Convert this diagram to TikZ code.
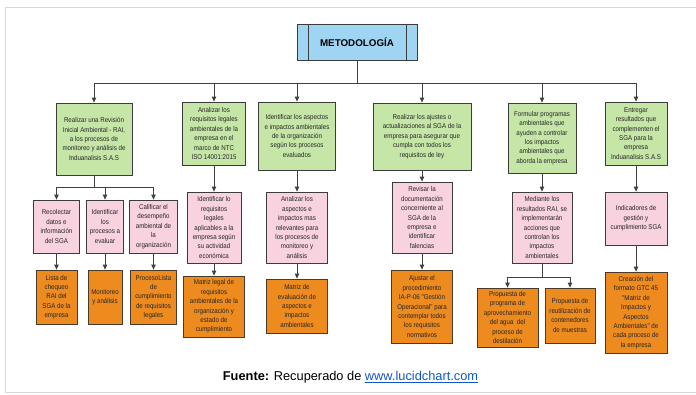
\documentclass[tikz,border=0pt]{standalone}
\usepackage{fontspec}
\setmainfont{Liberation Sans}
\newfontfamily\boxfont[FakeStretch=0.88]{Liberation Sans}
\usetikzlibrary{arrows.meta}
\definecolor{gfill}{HTML}{C6E6A8}
\definecolor{pfill}{HTML}{F8D2DE}
\definecolor{ofill}{HTML}{EE8B1F}
\definecolor{tfill}{HTML}{9FD4F2}
\definecolor{bord}{HTML}{3C3C3C}
\definecolor{obord}{HTML}{4A3A2A}
\definecolor{conn}{HTML}{404040}
\definecolor{frame}{HTML}{D8D8D8}
\definecolor{linkblue}{HTML}{1155CC}
\tikzset{
  box/.style={draw=bord, line width=0.8pt, align=center, inner sep=1pt,
    font=\boxfont\fontsize{7}{9.4}\selectfont, text=black!85},
  gbox/.style={box, fill=gfill},
  pbox/.style={box, fill=pfill},
  obox/.style={box, fill=ofill, draw=obord},
  arr/.style={draw=conn, line width=0.9pt, -{Triangle[length=5pt,width=4.5pt]}},
  ln/.style={draw=conn, line width=0.9pt},
}
\begin{document}
\begin{tikzpicture}[x=1pt,y=-1pt]
\useasboundingbox (0,0) rectangle (696,394);
\draw[frame, line width=1pt] (697,7) -- (5,7) -- (5,392) -- (697,392);

% title
\node[draw=bord, fill=tfill, line width=0.8pt, minimum width=120pt, minimum height=36pt,
  font=\bfseries\fontsize{9.8}{11}\selectfont] (title) at (357,42) {METODOLOGÍA};
\draw[draw=bord, line width=0.8pt] ([xshift=12pt]title.north west) -- ([xshift=12pt]title.south west);
\draw[draw=bord, line width=0.8pt] ([xshift=-11pt]title.north east) -- ([xshift=-11pt]title.south east);

% level 1
\node[gbox, minimum width=76pt, minimum height=72pt] (g1) at (94,139)
  {Realizar una Revisión\\Inicial Ambiental - RAI,\\a los procesos de\\monitoreo y análisis de\\Induanalisis S.A.S};
\node[gbox, minimum width=63pt, minimum height=63pt] (g2) at (214,133.5)
  {Analizar los\\requisitos legales\\ambientales de la\\empresa en el\\marco de NTC\\ISO 14001:2015};
\node[gbox, minimum width=77pt, minimum height=68pt] (g3) at (297,136)
  {Identificar los aspectos\\e impactos ambientales\\de la organización\\según los procesos\\evaluados};
\node[gbox, minimum width=98pt, minimum height=67pt] (g4) at (422,136.5)
  {Realizar los ajustes o\\actualizaciones al SGA de la\\empresa para asegurar que\\cumpla con todos los\\requisitos de ley};
\node[gbox, minimum width=68pt, minimum height=70pt] (g5) at (542,138)
  {Formular programas\\ambientales que\\ayuden a controlar\\los impactos\\ambientales que\\aborda la empresa};
\node[gbox, minimum width=62pt, minimum height=63pt] (g6) at (636,133.5)
  {Entregar\\resultados que\\complementen el\\SGA para la\\empresa\\Induanalisis S.A.S};

% level 2 (pink)
\node[pbox, minimum width=46pt, minimum height=53pt] (p1a) at (56.5,226.5)
  {Recolectar\\datos e\\información\\del SGA};
\node[pbox, minimum width=37pt, minimum height=53pt] (p1b) at (105,226.5)
  {Identificar\\los\\procesos a\\evaluar};
\node[pbox, minimum width=48pt, minimum height=53pt] (p1c) at (153.5,226.5)
  {Calificar el\\desempeño\\ambiental de\\la\\organización};
\node[pbox, minimum width=54pt, minimum height=71pt] (p2) at (214,227.5)
  {Identificar lo\\requisitos\\legales\\aplicables a la\\empresa según\\su actividad\\económica};
\node[pbox, minimum width=61pt, minimum height=71pt] (p3) at (297,227.5)
  {Analizar los\\aspectos e\\impactos mas\\relevantes para\\los procesos de\\monitoreo y\\análisis};
\node[pbox, minimum width=60pt, minimum height=71pt] (p4) at (422,217.5)
  {Revisar la\\documentación\\concerniente al\\SGA de la\\empresa e\\identificar\\falencias};
\node[pbox, minimum width=60pt, minimum height=71pt] (p5) at (542,227.5)
  {Mediante los\\resultados RAI, se\\implementarán\\acciones que\\controlan los\\impactos\\ambientales};
\node[pbox, minimum width=62pt, minimum height=53pt] (p6) at (636,218.5)
  {Indicadores de\\gestión y\\cumplimiento SGA};

% level 3 (orange)
\node[obox, minimum width=41pt, minimum height=54pt] (o1a) at (56.5,297)
  {Lista de\\chequeo\\RAI del\\SGA de la\\empresa};
\node[obox, minimum width=34pt, minimum height=54pt] (o1b) at (105,297)
  {Monitoreo\\y análisis};
\node[obox, minimum width=46pt, minimum height=54pt] (o1c) at (153.5,297)
  {ProcesoLista\\de\\cumplimiento\\de requisitos\\legales};
\node[obox, minimum width=61pt, minimum height=61pt] (o2) at (214,306.5)
  {Matriz legal de\\requisitos\\ambientales de la\\organización y\\estado de\\cumplimiento};
\node[obox, minimum width=61pt, minimum height=54pt] (o3) at (297,306)
  {Matriz de\\evaluación de\\aspectos e\\impactos\\ambientales};
\node[obox, minimum width=61pt, minimum height=73pt] (o4) at (422,306.5)
  {Ajustar el\\procedimiento\\IA-P-06 "Gestión\\Operacional" para\\contemplar todos\\los requisitos\\normativos};
\node[obox, minimum width=61pt, minimum height=59pt] (o5a) at (507.5,317.5)
  {Propuesta de\\programa de\\aprovechamiento\\del agua\ \ del\\proceso de\\destilación};
\node[obox, minimum width=50pt, minimum height=55pt] (o5b) at (570,315.5)
  {Propuesta de\\reutilización de\\contenedores\\de muestras};
\node[obox, minimum width=62pt, minimum height=81pt] (o6) at (636,312.5)
  {Creación del\\formato GTC 45\\"Matriz de\\Impactos y\\Aspectos\\Ambientales" de\\cada proceso de\\la empresa};

% connectors: title to level 1
\coordinate (bus) at (357,83);
\draw[ln] (title.south) -- (bus);
\foreach \g in {g1,g2,g3,g4,g5,g6}{
  \draw[arr] (bus) -| (\g.north);
}

% g1 to three pinks
\coordinate (bus1) at (94,187);
\draw[ln] (g1.south) -- (bus1);
\foreach \p in {p1a,p1b,p1c}{
  \draw[arr] (bus1) -| (\p.north);
}
\draw[arr] (p1a) -- (o1a);
\draw[arr] (p1b) -- (o1b);
\draw[arr] (p1c) -- (o1c);

\draw[arr] (g2) -- (p2);
\draw[arr] (p2) -- (o2);
\draw[arr] (g3) -- (p3);
\draw[arr] (p3) -- (o3);
\draw[arr] (g4) -- (p4);
\draw[arr] (p4) -- (o4);
\draw[arr] (g5) -- (p5);
\coordinate (bus5) at (542,277);
\draw[ln] (p5.south) -- (bus5);
\draw[arr] (bus5) -| (o5a.north);
\draw[arr] (bus5) -| (o5b.north);
\draw[arr] (g6) -- (p6);
\draw[arr] (p6) -- (o6);

% footer
\node[font=\fontsize{12.8}{15}\selectfont, inner sep=0pt] (src) at (350.5,377)
  {\textbf{Fuente:} Recuperado de \textcolor{linkblue}{\underline{www.lucidchart.com}}};
\end{tikzpicture}
\end{document}
